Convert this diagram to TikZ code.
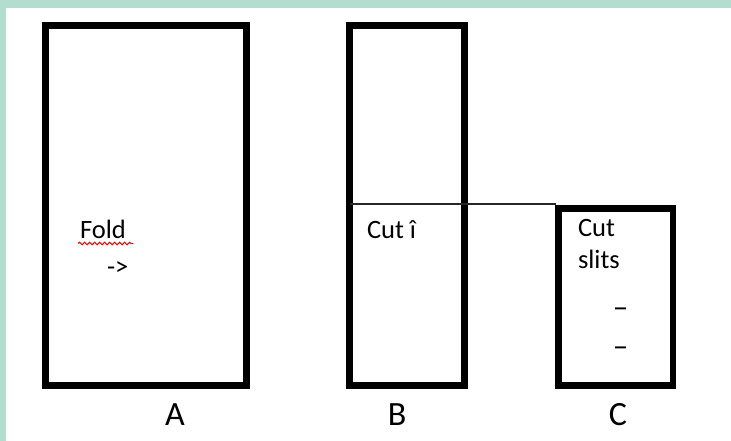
\documentclass[tikz,border=0pt]{standalone}
\usepackage{fontspec}
\setmainfont{Carlito}
\usetikzlibrary{decorations.pathmorphing}
\definecolor{mint}{RGB}{179,221,206}
\tikzset{
  panel/.style={draw=black, line width=6.5pt, inner sep=0pt, outer sep=0pt},
  txt/.style={inner sep=0pt, outer sep=0pt, font=\fontsize{26.5}{32}\selectfont},
  dashtxt/.style={inner sep=0pt, outer sep=0pt, font=\fontsize{31}{36}\selectfont},
  lbl/.style={inner sep=0pt, outer sep=0pt, anchor=base, font=\fontsize{34}{40}\selectfont},
  cutline/.style={draw=black!85, line width=1.8pt},
  spell/.style={draw=red, line width=1pt, decorate, decoration={snake, amplitude=1.3pt, segment length=5pt}}
}
\begin{document}
\begin{tikzpicture}[x=1pt, y=-1pt]
  \useasboundingbox (0,0) rectangle (731,441);
  \fill[mint] (0,0) rectangle (731,441);
  \fill[white] (6,8) rectangle (731,441);
  % panels
  \node[panel, minimum width=201pt, minimum height=360pt] (A) at (146,205.5) {};
  \node[panel, minimum width=115pt, minimum height=360pt] (B) at (407,205.5) {};
  \node[panel, minimum width=114.5pt, minimum height=177pt] (C) at (615.75,297) {};
  % cut line
  \coordinate (cutY) at (0,204);
  \draw[cutline] (B.west |- cutY) -- ([xshift=-3pt]C.west |- cutY);
  % texts
  \node[txt, anchor=base west] (fold) at (80,238) {Fold};
  \draw[spell] (78,243.5) -- (133,243.5);
  \node[txt, anchor=base west] (arrow) at (107,275) {->};
  \node[txt, anchor=base west] (cutB) at (367,238) {Cut î};
  \node[txt, anchor=base west] (cutC) at (578,236) {Cut};
  \node[txt, anchor=base west] (slits) at (578,268) {slits};
  \node[dashtxt] (d1) at (620.5,313) {–};
  \node[dashtxt] (d2) at (620.5,352) {–};
  % labels
  \node[lbl] (la) at (175,425) {A};
  \node[lbl] (lb) at (397,425) {B};
  \node[lbl] (lc) at (618,425) {C};
\end{tikzpicture}
\end{document}
